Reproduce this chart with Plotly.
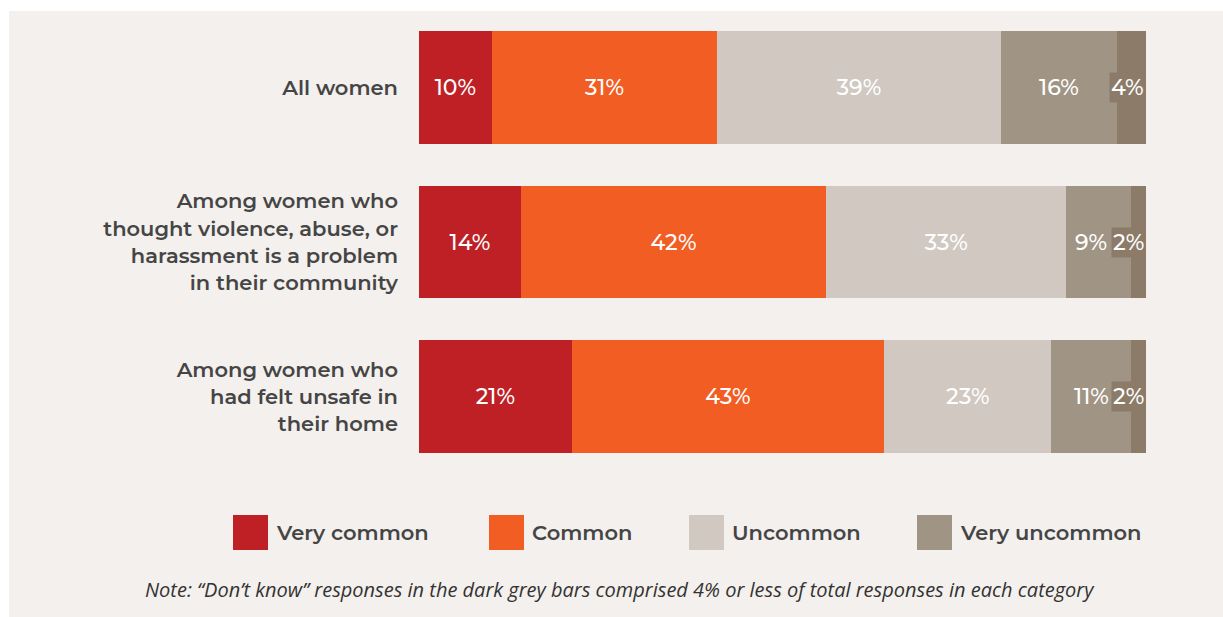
import plotly.graph_objects as go

# Survey groups (top to bottom) and response shares in percent
categories = [
    "All women",
    "Among women who<br>thought violence, abuse, or<br>harassment is a problem<br>in their community",
    "Among women who<br>had felt unsafe in<br>their home",
]
very_common = [10, 14, 21]
common = [31, 42, 43]
uncommon = [39, 33, 23]
very_uncommon = [16, 9, 11]
dont_know = [4, 2, 2]

series_names = ["Very common", "Common", "Uncommon", "Very uncommon"]
series_values = [very_common, common, uncommon, very_uncommon]
series_colors = ["#be2026", "#f15d22", "#d0c8c1", "#a09484"]
dont_know_color = "#8b7b68"

note_text = ("Note: \u201cDon\u2019t know\u201d responses in the dark grey bars comprised 4% "
             "or less of total responses in each category")

W, H = 1223, 617
ML, MR, MT, MB = 419, 77, 10, 143
PW, PH = W - ML - MR, H - MT - MB


def px_x(x):
    return (x - ML) / PW


def px_y(y):
    return (H - MB - y) / PH


FONT = "Montserrat, Inter, Noto Sans, sans-serif"
TEXT_DARK = "#454545"
WEIGHT = 600
VALUE_FONT = dict(color="white", size=22, family=FONT, weight=500)

fig = go.Figure()

for name, vals, col in zip(series_names, series_values, series_colors):
    # the last visible series gets its labels as annotations (see below)
    labelled = name != "Very uncommon"
    fig.add_trace(go.Bar(
        y=categories, x=vals, name=name, orientation="h",
        marker=dict(color=col, line=dict(width=0)),
        texttemplate="%{x}%" if labelled else None,
        textposition="inside" if labelled else "none",
        insidetextanchor="middle",
        textfont=VALUE_FONT,
        showlegend=False,
    ))

fig.add_trace(go.Bar(
    y=categories, x=dont_know, name="Don't know", orientation="h",
    marker=dict(color=dont_know_color, line=dict(width=0)),
    showlegend=False, hoverinfo="x",
))

# "Very uncommon" labels, nudged left where the segment is tight
starts_vu = [a + b + c for a, b, c in zip(very_common, common, uncommon)]
nudge = [0, -8, 0]
for cat, start, v, dx in zip(categories, starts_vu, very_uncommon, nudge):
    fig.add_annotation(
        x=start + v / 2, y=cat, xref="x", yref="y", text=f"{v}%",
        xanchor="center", yanchor="middle", showarrow=False, xshift=dx,
        font=VALUE_FONT,
    )

# Labels for the narrow "Don't know" segments, boxed so they stay readable
totals = [sum(v) for v in zip(*series_values, dont_know)]
for cat, dk, tot in zip(categories, dont_know, totals):
    fig.add_annotation(
        x=tot, y=cat, xref="x", yref="y", text=f"{dk}%",
        xanchor="right", yanchor="middle", showarrow=False,
        bgcolor=dont_know_color, borderpad=1,
        font=VALUE_FONT,
    )

# Panel background with a thin white strip on the left and top
fig.add_shape(type="rect", xref="paper", yref="paper",
              x0=px_x(9), x1=px_x(W + 5), y0=px_y(H + 5), y1=px_y(11),
              fillcolor="#f3f0ed", line=dict(width=0), layer="below")

# Custom legend with large square swatches
legend_x = [233, 489, 689, 917]
for name, col, lx in zip(series_names, series_colors, legend_x):
    fig.add_shape(type="rect", xref="paper", yref="paper",
                  x0=px_x(lx), x1=px_x(lx + 35), y0=px_y(550), y1=px_y(515),
                  fillcolor=col, line=dict(width=0))
    fig.add_annotation(x=px_x(lx + 41), y=px_y(532), xref="paper", yref="paper",
                       text=name, showarrow=False, xanchor="left", yanchor="middle",
                       font=dict(size=21, color=TEXT_DARK, family=FONT, weight=WEIGHT))

fig.add_annotation(x=px_x(619.5), y=px_y(589), xref="paper", yref="paper",
                   text=f"<i>{note_text}</i>", showarrow=False,
                   xanchor="center", yanchor="middle",
                   font=dict(size=20, color="#333333", family="Open Sans, sans-serif"))

fig.update_layout(
    width=W, height=H,
    margin=dict(l=ML, r=MR, t=MT, b=MB, autoexpand=False),
    barmode="stack", bargap=0.27,
    paper_bgcolor="white", plot_bgcolor="rgba(0,0,0,0)",
    uniformtext=dict(minsize=22, mode="show"),
    xaxis=dict(range=[0, 100], visible=False, fixedrange=True),
    yaxis=dict(autorange="reversed", showgrid=False, zeroline=False, showline=False,
               ticks="", ticklabelstandoff=20,
               tickfont=dict(size=21, color=TEXT_DARK, family=FONT, weight=WEIGHT)),
    font=dict(family=FONT),
)

fig.write_html("out.html")
